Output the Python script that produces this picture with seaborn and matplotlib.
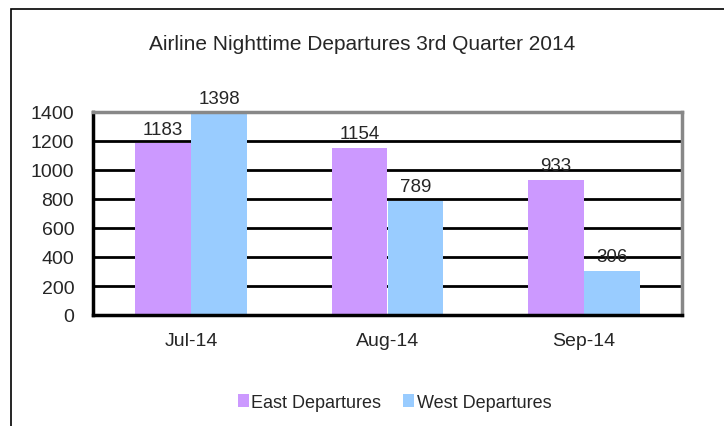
import pandas as pd
import matplotlib
matplotlib.use("Agg")
import matplotlib.pyplot as plt
import seaborn as sns
from matplotlib.patches import Rectangle

# datos
months = ["Jul-14", "Aug-14", "Sep-14"]
east = [1183, 1154, 933]
west = [1398, 789, 306]
series = ["East Departures", "West Departures"]
colors = ["#CC99FF", "#99CCFF"]

df = pd.DataFrame({
    "month": months * 2,
    "value": east + west,
    "serie": [series[0]] * 3 + [series[1]] * 3,
})

sns.set_style("white")
plt.rcParams["font.family"] = ["Liberation Sans", "DejaVu Sans"]

fig = plt.figure(figsize=(7.24, 4.27), dpi=100)
ax = fig.add_axes([93 / 724, 1 - 316 / 427, (682 - 93) / 724, (316 - 113) / 427])

# marco exterior
fig.patches.append(Rectangle((11 / 724, -0.1), 1.2, 1 - 10 / 427 + 0.1,
                             transform=fig.transFigure, fill=False,
                             edgecolor="black", linewidth=1.2))

sns.barplot(data=df, x="month", y="value", hue="serie", palette=colors,
            width=0.57, saturation=1, linewidth=0, ax=ax, legend=True)

for c in ax.containers:
    ax.bar_label(c, fmt="%d", padding=4, fontsize=13.5)

ax.set_ylim(0, 1400)
ax.set_xlim(-0.5, 2.5)
ax.set_yticks(range(0, 1401, 200))
ax.yaxis.grid(True, color="black", linewidth=2)
ax.set_axisbelow(True)
ax.set_xlabel("")
ax.set_ylabel("")
ax.tick_params(axis="y", direction="out", length=5.5, width=2, color="black", labelsize=14, pad=8)
ax.tick_params(axis="x", which="major", length=0, labelsize=14, pad=12)
ax.set_xticks([-0.5, 0.5, 1.5, 2.5], minor=True)
ax.tick_params(axis="x", which="minor", direction="out", length=6, width=2, color="black")

for s in ["left", "bottom"]:
    ax.spines[s].set_color("black")
    ax.spines[s].set_linewidth(2.5)
for s in ["top", "right"]:
    ax.spines[s].set_color("#888888")
    ax.spines[s].set_linewidth(2.5)

fig.text(0.5, 1 - 45 / 427, "Airline Nighttime Departures 3rd Quarter 2014",
         ha="center", va="center", fontsize=15)

leg = ax.legend(loc="center", bbox_to_anchor=(0.512, -0.43), ncol=2, frameon=False,
                fontsize=13, handlelength=0.6, handleheight=0.7, handletextpad=0.15,
                columnspacing=1.2)

fig.savefig("out.png", dpi=100)
